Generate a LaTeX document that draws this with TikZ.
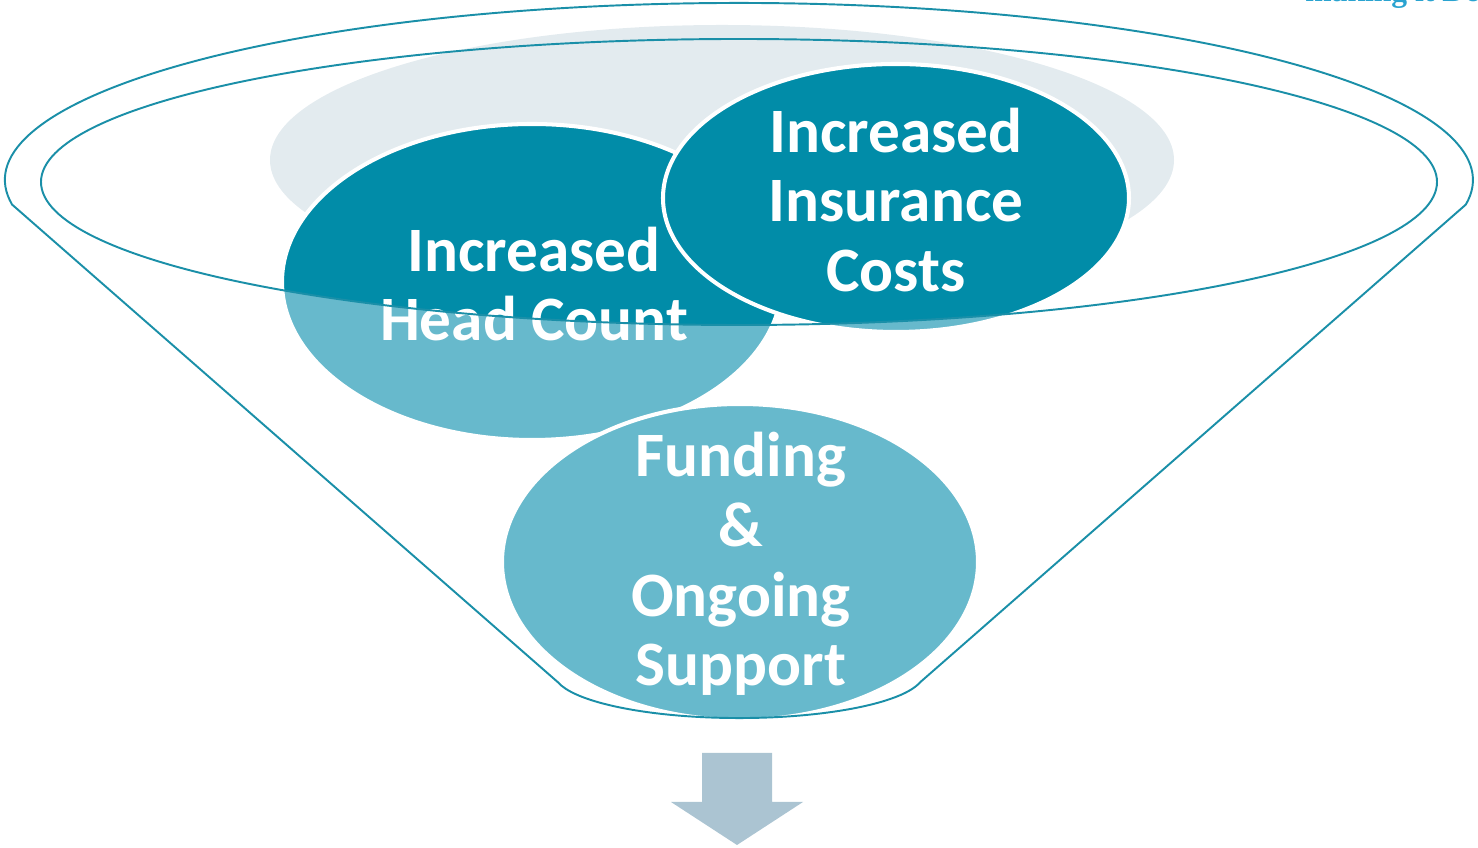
\documentclass[tikz,border=0pt]{standalone}
\usepackage{fontspec}
\newfontfamily\calib{Carlito}
\newfontfamily\serifb{Liberation Serif}
\definecolor{darkteal}{HTML}{018CA8}
\definecolor{lightteal}{HTML}{67B9CC}
\definecolor{funnelline}{HTML}{1A8FA8}
\definecolor{bgell}{HTML}{E3EBEF}
\definecolor{arrowc}{HTML}{ABC4D2}
\definecolor{toptext}{HTML}{2AA3D0}
\tikzset{
  funnel/.style={draw=funnelline, line width=1.1pt},
  bubbleline/.style={draw=white, line width=2.3pt},
  bubbletext/.style={text=white, align=center, font=\calib\bfseries\fontsize{36}{39.7}\selectfont, inner sep=0pt},
}
\begin{document}
\begin{tikzpicture}[x=0.02cm,y=0.02cm]
\useasboundingbox (0,0) rectangle (1478,848);
% cut-off heading at top right
\node[anchor=base west, text=toptext, font=\serifb\bfseries\fontsize{18}{21}\selectfont, inner sep=0pt] (heading) at (1305,846.5) {making it Do};
% background light ellipse
\fill[bgell] (722,688) ellipse [x radius=452, y radius=135];
% Head Count bubble
\fill[lightteal] (532,566) ellipse [x radius=250, y radius=158];
\begin{scope}
  \clip (739,666) ellipse [x radius=698, y radius=143];
  \fill[darkteal] (532,566) ellipse [x radius=250, y radius=158];
\end{scope}
\draw[bubbleline] (532,566) ellipse [x radius=250, y radius=158];
% Insurance bubble
\fill[lightteal] (896,650) ellipse [x radius=233, y radius=134];
\begin{scope}
  \clip (739,666) ellipse [x radius=698, y radius=143];
  \fill[darkteal] (896,650) ellipse [x radius=233, y radius=134];
\end{scope}
\draw[bubbleline] (896,650) ellipse [x radius=233, y radius=134];
% Funding bubble
\fill[lightteal] (740,286) ellipse [x radius=238, y radius=158];
\draw[bubbleline] (740,286) ellipse [x radius=238, y radius=158];
% texts
\node[bubbletext] (head) at (534,564) {Increased\\Head Count};
\node[bubbletext] (ins) at (896,648) {Increased\\Insurance\\Costs};
\node[bubbletext] (fund) at (741,284) {Funding\\\&\\Ongoing\\Support};
% funnel
\draw[funnel] (12.1,643.4) arc[start angle=188, end angle=-8, x radius=734, y radius=177]
  -- (920,165.6) arc[start angle=-12, end angle=-168, x radius=185, y radius=45] -- cycle;
\draw[funnel] (739,666) ellipse [x radius=698, y radius=143];
% arrow
\fill[arrowc] (702,95) -- (772,95) -- (772,46) -- (803,46) -- (737,3) -- (671,46) -- (702,46) -- cycle;
\end{tikzpicture}
\end{document}
